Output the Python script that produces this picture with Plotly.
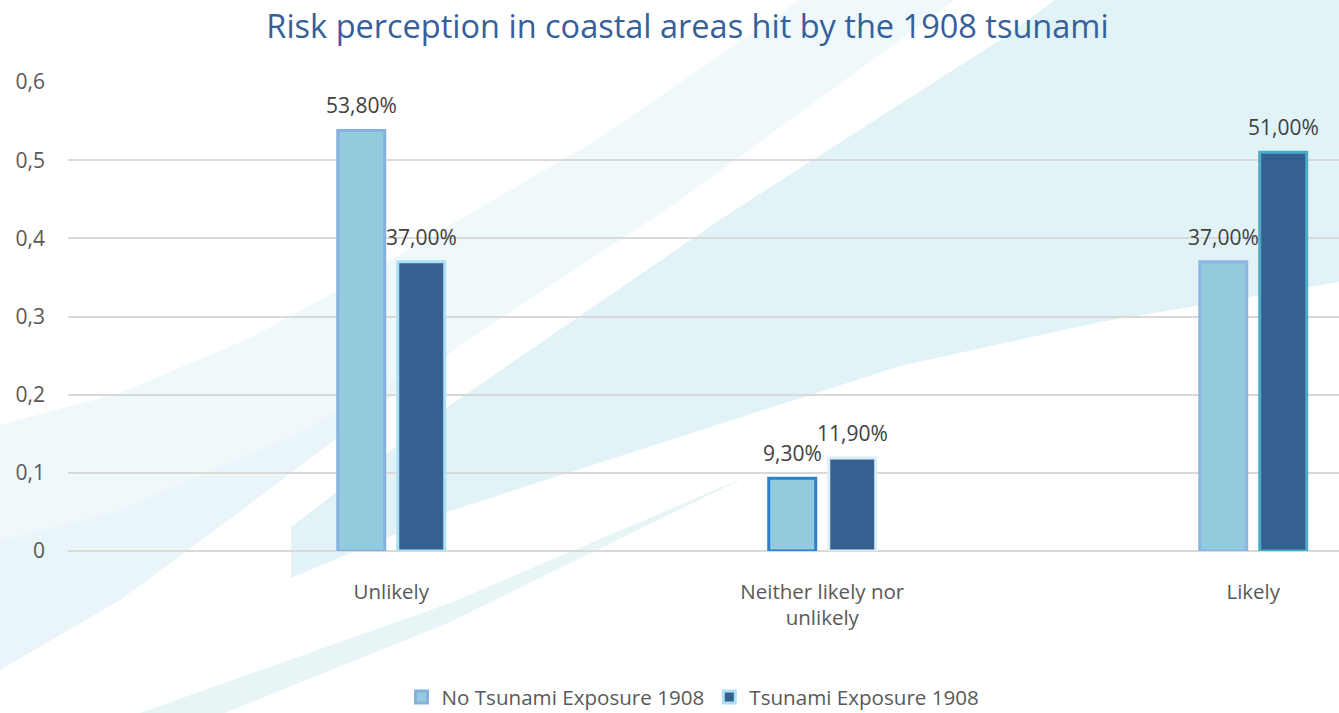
import plotly.graph_objects as go

# ---------------- data ----------------
categories = ["Unlikely", "Neither likely nor<br>unlikely", "Likely"]
series_names = ["No Tsunami Exposure 1908", "Tsunami Exposure 1908"]
no_exposure = [0.538, 0.093, 0.37]
exposure = [0.37, 0.119, 0.51]
y_ticks = [0, 0.1, 0.2, 0.3, 0.4, 0.5, 0.6]
title_text = "Risk perception in coastal areas hit by the 1908 tsunami"

# ---------------- style ----------------
FONT = "Open Sans"
light_fill = "#93CBDE"
dark_fill = "#35608F"
light_lines = ["#86B1DD", "#2A80CB", "#8DB5DF"]
dark_lines = ["#AEE0F5", "#DCEFF7", "#4BACC6"]

W, H = 1339, 713
L, R, T, B = 68, 1339, 82, 551


def to_paper(pts):
    out = []
    for i, (xp, yp) in enumerate(pts):
        xx = (xp - L) / (R - L)
        yy = (B - yp) / (B - T)
        out.append(("M" if i == 0 else "L") + f"{xx:.4f},{yy:.4f}")
    return " ".join(out) + " Z"


bg_shapes = [
    ([(0, 425), (120, 393), (250, 338), (333, 293), (600, 138), (800, 0), (955, 0),
      (673, 205), (460, 345), (300, 432), (120, 510), (0, 540)], "#EFF8FB"),
    ([(0, 540), (120, 510), (300, 432), (460, 345), (233, 517), (120, 600), (0, 670)], "#E9F5F9"),
    ([(291, 527), (450, 405), (727, 215), (1000, 40), (1055, 0), (1339, 0), (1339, 282),
      (1100, 322), (900, 366), (450, 511), (291, 578)], "#E2F3F8"),
    ([(140, 713), (450, 603), (750, 475), (450, 622), (225, 713)], "#E7F5F6"),
]

shapes = [dict(type="path", xref="paper", yref="paper", path=to_paper(p),
               fillcolor=c, line=dict(width=0), layer="below") for p, c in bg_shapes]

fig = go.Figure()
fig.add_trace(go.Bar(x=categories, y=no_exposure, name=series_names[0],
                     marker=dict(color=light_fill, line=dict(color=light_lines, width=3))))
fig.add_trace(go.Bar(x=categories, y=exposure, name=series_names[1],
                     marker=dict(color=dark_fill, line=dict(color=dark_lines, width=3))))


def fmt(v):
    return f"{v * 100:.2f}%".replace(".", ",")


annotations = []
for vals, shift in ((no_exposure, -30), (exposure, 30)):
    for c, v in zip(categories, vals):
        annotations.append(dict(x=c, y=v, xref="x", yref="y", text=fmt(v), showarrow=False,
                                xshift=shift, yshift=9, yanchor="bottom",
                                font=dict(family=FONT, size=21, color="#404040")))

fig.update_layout(
    width=W, height=H, autosize=False,
    margin=dict(l=L, r=W - R, t=T, b=H - B, pad=0, autoexpand=False),
    paper_bgcolor="white", plot_bgcolor="rgba(0,0,0,0)",
    separators=",.",
    barmode="group", bargap=0.7216, bargroupgap=0.217,
    title=dict(text=title_text, x=687.5 / W, xref="container", xanchor="center",
               y=1 - 27 / H, yref="container", yanchor="middle",
               font=dict(family=FONT, size=32.5, color="#35609A")),
    font=dict(family=FONT, size=20, color="#595959"),
    showlegend=True,
    legend=dict(orientation="h", x=(693 - L) / (R - L), xanchor="center",
                y=(B - 697) / (B - T), yanchor="middle",
                font=dict(family=FONT, size=20.6, color="#595959"),
                bgcolor="rgba(0,0,0,0)"),
    shapes=shapes,
    annotations=annotations,
)
fig.update_yaxes(range=[0, 0.6], tickvals=y_ticks, showgrid=True, gridcolor="#D9D9D9",
                 gridwidth=1.5, zeroline=True, zerolinecolor="#D9D9D9", zerolinewidth=1.5,
                 showline=False, ticks="", ticklabelstandoff=22,
                 tickfont=dict(family=FONT, size=21, color="#595959"))
fig.update_xaxes(range=[-0.75, 2.199], showgrid=False, showline=False, ticks="",
                 ticklabelstandoff=26,
                 tickfont=dict(family=FONT, size=20.5, color="#595959"))

fig.write_html("out.html")
